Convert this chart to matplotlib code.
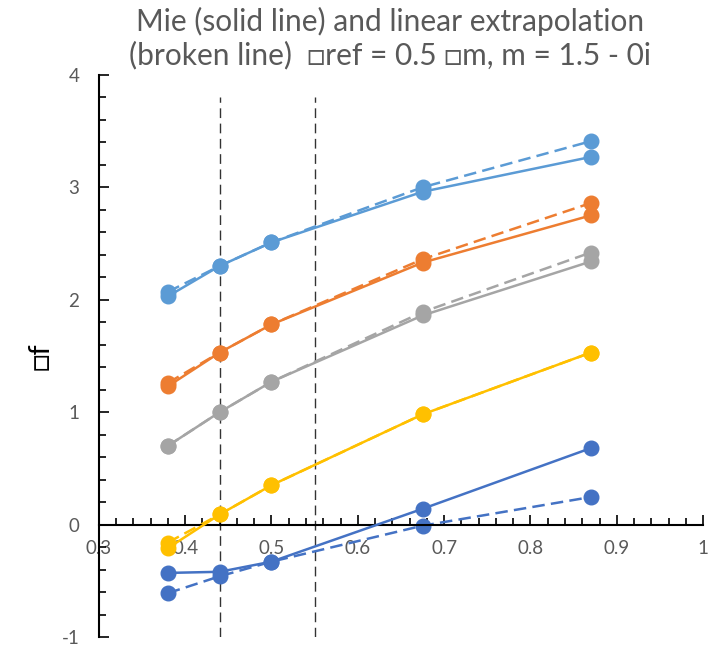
import matplotlib
matplotlib.use("Agg")
import matplotlib.pyplot as plt
from matplotlib.ticker import MultipleLocator

wl = [0.38, 0.44, 0.5, 0.675, 0.87]

# Mie (solid)
mie_lblue = [2.03, 2.30, 2.51, 2.96, 3.27]
mie_orange = [1.23, 1.53, 1.78, 2.33, 2.75]
mie_gray = [0.70, 1.00, 1.27, 1.86, 2.34]
mie_yellow = [-0.21, 0.09, 0.35, 0.98, 1.53]
mie_dblue = [-0.43, -0.42, -0.33, 0.14, 0.68]

# linear extrapolation (dashed)
lin_lblue = [2.07, 2.30, 2.51, 3.00, 3.41]
lin_orange = [1.26, 1.53, 1.78, 2.36, 2.86]
lin_gray = [0.70, 1.00, 1.27, 1.89, 2.42]
lin_yellow = [-0.16, 0.09, 0.35, 0.98, 1.53]
lin_dblue = [-0.61, -0.46, -0.33, -0.01, 0.245]

vlines_x = [0.44, 0.55]
vline_y = [-1, 3.8]

colors = ["#5B9BD5", "#ED7D31", "#A5A5A5", "#FFC000", "#4472C4"]
mie = [mie_lblue, mie_orange, mie_gray, mie_yellow, mie_dblue]
lin = [lin_lblue, lin_orange, lin_gray, lin_yellow, lin_dblue]

GREY = "#595959"
plt.rcParams["font.family"] = ["Lato", "DejaVu Sans"]
plt.rcParams["axes.unicode_minus"] = False

fig = plt.figure(figsize=(7.16, 6.51), dpi=100)
ax = fig.add_axes([0.138, 0.0215, 0.844, 0.8635])

for x in vlines_x:
    ax.plot([x, x], vline_y, color="#333333", lw=1.0, ls=(0, (7, 4)), zorder=1)

for c, s, d in zip(colors, mie, lin):
    ax.plot(wl, d, color=c, lw=1.8, ls=(0, (5, 2.5)), marker="o", ms=10.5, zorder=2)
    ax.plot(wl, s, color=c, lw=1.8, marker="o", ms=10.5, zorder=3)

ax.set_xlim(0.3, 1.0)
ax.set_ylim(-1, 4)
ax.spines["top"].set_visible(False)
ax.spines["right"].set_visible(False)
ax.spines["bottom"].set_position(("data", 0))
for sp in ("left", "bottom"):
    ax.spines[sp].set_color("black")
    ax.spines[sp].set_linewidth(1.5)

ax.xaxis.set_major_locator(MultipleLocator(0.1))
ax.xaxis.set_minor_locator(MultipleLocator(0.02))
ax.yaxis.set_major_locator(MultipleLocator(1))
ax.yaxis.set_minor_locator(MultipleLocator(0.2))
ax.set_xticks([0.3, 0.4, 0.5, 0.6, 0.7, 0.8, 0.9, 1.0])
ax.set_xticklabels(["0.3", "0.4", "0.5", "0.6", "0.7", "0.8", "0.9", "1"])
ax.tick_params(which="both", direction="in", color="black", width=1.2,
               labelcolor=GREY, labelsize=13.5)
ax.tick_params(which="major", length=7)
ax.tick_params(which="minor", length=5)
ax.tick_params(axis="x", pad=11)
ax.tick_params(axis="y", pad=14)

ax.set_ylabel("\u25a1f", fontsize=21, color="black", labelpad=6)
fig.text(0.545, 0.99,
         "Mie (solid line) and linear extrapolation\n"
         "(broken line)  \u25a1ref = 0.5 \u25a1m, m = 1.5 - 0i",
         ha="center", va="top", fontsize=21.5, color=GREY, linespacing=1.2)

fig.savefig("out.png", dpi=100)
